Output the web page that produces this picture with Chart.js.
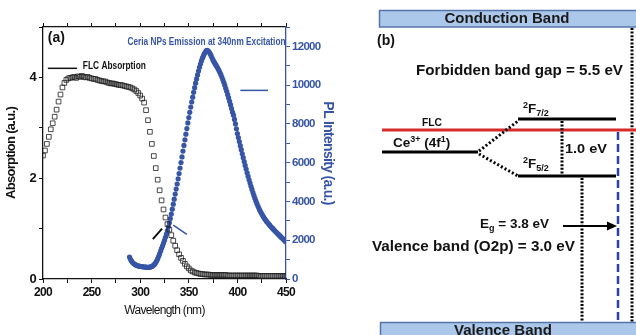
<!DOCTYPE html>
<html>
<head>
<meta charset="utf-8">
<script src="https://cdn.jsdelivr.net/npm/chart.js@4.4.1/dist/chart.umd.min.js"></script>
<style>
  html, body { margin: 0; padding: 0; background: #fff; }
  #wrap { position: relative; width: 636px; height: 335px; overflow: hidden; }
  #left { position: absolute; left: 0; top: 0; width: 340px; height: 335px; }
  #diagram { position: absolute; left: 0; top: 0; }
</style>
</head>
<body>
<div id="wrap">
  <div id="left"><canvas id="spectra" width="340" height="335"></canvas></div>
  <svg id="diagram" width="636" height="335" font-family="'Liberation Sans', Arial, sans-serif" font-weight="bold">
    <!-- conduction / valence band boxes -->
    <rect x="379.5" y="10.5" width="260" height="16.5" fill="#abc8ea" stroke="#5674aa" stroke-width="1.5"/>
    <text x="507" y="23" font-size="14" text-anchor="middle" textLength="125" lengthAdjust="spacingAndGlyphs" fill="#1a1a1a">Conduction Band</text>
    <rect x="380.5" y="322.5" width="260" height="20" fill="#abc8ea" stroke="#5674aa" stroke-width="1.5"/>
    <text x="503" y="335" font-size="14" text-anchor="middle" textLength="98" lengthAdjust="spacingAndGlyphs" fill="#1a1a1a">Valence Band</text>

    <text x="377" y="45" font-size="14" fill="#111">(b)</text>
    <text x="416" y="75" font-size="14" textLength="207" lengthAdjust="spacingAndGlyphs" fill="#111">Forbidden band gap = 5.5 eV</text>

    <!-- gap marker at right edge -->
    <line x1="632" y1="28" x2="632" y2="322" stroke="#000" stroke-width="3" stroke-dasharray="2 1.6"/>

    <!-- FLC level -->
    <line x1="382" y1="130" x2="636" y2="130" stroke="#d62b2b" stroke-width="3"/>
    <text x="422" y="126" font-size="10.5" textLength="20" lengthAdjust="spacingAndGlyphs" fill="#111">FLC</text>

    <!-- Ce3+ level and splitting -->
    <line x1="382" y1="152" x2="478" y2="152" stroke="#000" stroke-width="3"/>
    <text x="393" y="147" font-size="13.5" fill="#111">Ce<tspan font-size="9" dy="-5">3+</tspan><tspan dy="5"> (4f</tspan><tspan font-size="9" dy="-5">1</tspan><tspan dy="5">)</tspan></text>
    <line x1="479" y1="151" x2="518" y2="121" stroke="#000" stroke-width="3" stroke-dasharray="2 2.2"/>
    <line x1="479" y1="154" x2="518" y2="176" stroke="#000" stroke-width="3" stroke-dasharray="2 2.2"/>

    <line x1="518" y1="119" x2="616" y2="119" stroke="#000" stroke-width="3"/>
    <text x="523" y="113" font-size="13.5" fill="#111"><tspan font-size="9" dy="-5">2</tspan><tspan dy="5">F</tspan><tspan font-size="9" dy="3">7/2</tspan></text>
    <line x1="518" y1="176" x2="616" y2="176" stroke="#000" stroke-width="3"/>
    <text x="523" y="168" font-size="13.5" fill="#111"><tspan font-size="9" dy="-5">2</tspan><tspan dy="5">F</tspan><tspan font-size="9" dy="3">5/2</tspan></text>

    <line x1="562" y1="121" x2="562" y2="175" stroke="#000" stroke-width="3" stroke-dasharray="2 1.6"/>
    <text x="565" y="153" font-size="13.5" textLength="42" lengthAdjust="spacingAndGlyphs" fill="#111">1.0 eV</text>
    <line x1="582" y1="178" x2="582" y2="322" stroke="#000" stroke-width="3" stroke-dasharray="2 1.6"/>

    <!-- band edge (blue dashed) -->
    <line x1="618" y1="132" x2="618" y2="322" stroke="#2b40a0" stroke-width="2.5" stroke-dasharray="8 4"/>

    <!-- Eg arrow -->
    <line x1="563" y1="226" x2="610" y2="226" stroke="#000" stroke-width="2"/>
    <polygon points="617,226 607,221.5 607,230.5" fill="#000"/>
    <text x="480" y="228" font-size="13.5" fill="#111">E<tspan font-size="9" dy="3">g</tspan><tspan dy="-3"> = 3.8 eV</tspan></text>
    <text x="372" y="251" font-size="14" textLength="203" lengthAdjust="spacingAndGlyphs" fill="#111">Valence band (O2p) = 3.0 eV</text>
  </svg>
</div>
<script>
// FLC absorption, every 2 nm from 200 to 450 nm
const absStart = 200, absStep = 2;
const absorption = [
  2.45, 2.55, 2.68, 2.82, 2.97, 3.09, 3.22, 3.36, 3.52, 3.66,
  3.80, 3.89, 3.95, 3.98, 3.99, 4.00, 4.01, 3.99, 4.02, 4.01,
  4.03, 4.01, 4.00, 4.01, 3.99, 3.98, 3.97, 3.97, 3.95, 3.94,
  3.93, 3.92, 3.92, 3.90, 3.89, 3.88, 3.88, 3.87, 3.86, 3.85,
  3.85, 3.84, 3.83, 3.82, 3.81, 3.80, 3.78, 3.76, 3.73, 3.69,
  3.64, 3.58, 3.50, 3.35, 3.15, 2.92, 2.68, 2.44, 2.20, 1.97,
  1.76, 1.56, 1.38, 1.22, 1.09, 0.98, 0.87, 0.76, 0.66, 0.57,
  0.49, 0.42, 0.36, 0.30, 0.25, 0.21, 0.17, 0.15, 0.13, 0.12,
  0.11, 0.10, 0.10, 0.09, 0.09, 0.09,
  0.08, 0.08, 0.08, 0.08, 0.08, 0.08, 0.08, 0.08, 0.08,
  0.07, 0.07, 0.07, 0.07, 0.07, 0.07, 0.07, 0.07, 0.07, 0.07, 0.07, 0.07, 0.07, 0.07, 0.07, 0.07,
  0.06, 0.06, 0.06, 0.06, 0.06, 0.06, 0.06, 0.06, 0.06, 0.06, 0.06, 0.06, 0.06, 0.06, 0.06
];

// ceria NP emission (340 nm excitation), every 1 nm from 289 to 450 nm
const plStart = 289, plStep = 1;
const plIntensity = [
  1130, 1020, 930, 860, 810, 770, 740, 710, 690, 670, 660,
  650, 640, 640, 630, 620, 620, 610, 600, 600, 600,
  610, 630, 650, 680, 720, 780, 850, 940, 1050, 1170,
  1300, 1440, 1580, 1710, 1850, 2000, 2150, 2320, 2500, 2690,
  2900, 3120, 3350, 3600, 3860, 4120, 4380, 4640, 4900, 5170,
  5440, 5720, 6010, 6300, 6600, 6890, 7180, 7470, 7760, 8050,
  8330, 8600, 8870, 9130, 9380, 9630, 9870, 10100, 10320, 10530,
  10730, 10920, 11090, 11250, 11390, 11510, 11620, 11710, 11780, 11790,
  11760, 11700, 11620, 11520, 11400, 11290, 11200, 11110, 11030, 10950,
  10860, 10760, 10650, 10540, 10420, 10290, 10150, 10000, 9840, 9680,
  9510, 9340, 9160, 8980, 8790, 8600, 8450, 8230, 8000, 7750,
  7500, 7300, 7090, 6880, 6670, 6460, 6260, 6060, 5860, 5670,
  5480, 5300, 5120, 4950, 4780, 4620, 4460, 4310, 4170, 4030,
  3900, 3780, 3660, 3550, 3450, 3360, 3270, 3190, 3110, 3040,
  2970, 2910, 2850, 2790, 2730, 2670, 2620, 2570, 2510, 2460,
  2410, 2360, 2310, 2260, 2210, 2160, 2110, 2060, 2010, 1960, 1910
];

const xTickLabels = [200, 250, 300, 350, 400, 450];
const absTickLabels = [0, 2, 4];
const plTickLabels = [0, 2000, 4000, 6000, 8000, 10000, 12000];

const BLUE = '#3755a6';
const SANS = "'Liberation Sans', Arial, sans-serif";

function toPoints(start, step, values) {
  var pts = [];
  for (var i = 0; i < values.length; i++) {
    pts.push({x: start + i * step, y: values[i]});
  }
  return pts;
}

// draw a string squeezed to a given width (the figure uses very condensed type)
function squeezed(ctx, text, x, y, width, font, color, align) {
  ctx.save();
  ctx.letterSpacing = '0px';
  ctx.font = font;
  var w = ctx.measureText(text).width;
  var left = align == 'right' ? x - width : x;
  ctx.translate(left, y);
  ctx.scale(width / w, 1);
  ctx.fillStyle = color;
  ctx.textBaseline = 'middle';
  ctx.textAlign = 'left';
  ctx.fillText(text, 0, 0);
  ctx.restore();
}

function segment(ctx, x1, y1, x2, y2, color, width) {
  ctx.save();
  ctx.strokeStyle = color;
  ctx.lineWidth = width;
  ctx.beginPath();
  ctx.moveTo(x1, y1);
  ctx.lineTo(x2, y2);
  ctx.stroke();
  ctx.restore();
}

// the axis type in the figure is tight, so tighten the canvas text
const tightText = {
  id: 'tightText',
  beforeDraw: function (chart) { chart.ctx.letterSpacing = '-0.7px'; },
  afterDraw: function (chart) { chart.ctx.letterSpacing = '0px'; }
};

// labels and pointer marks inside panel (a), placed in data coordinates
const panelNotes = {
  id: 'panelNotes',
  afterDatasetsDraw: function (chart) {
    var ctx = chart.ctx;
    var x = chart.scales.x, ya = chart.scales.y, yp = chart.scales.y2;
    ctx.save();
    ctx.letterSpacing = '0px';
    ctx.font = "bold 14px " + SANS;
    ctx.fillStyle = '#111';
    ctx.textBaseline = 'middle';
    ctx.fillText('(a)', x.getPixelForValue(205), ya.getPixelForValue(4.77));
    ctx.restore();

    squeezed(ctx, 'Ceria NPs Emission at 340nm Excitation', x.getPixelForValue(449.5), ya.getPixelForValue(4.7),
      158, "bold 11px " + SANS, BLUE, 'right');
    squeezed(ctx, 'FLC Absorption', x.getPixelForValue(241), ya.getPixelForValue(4.23),
      63, "bold 11px " + SANS, '#111', 'left');

    // pointer lines to the axes
    segment(ctx, x.getPixelForValue(205), ya.getPixelForValue(4.18), x.getPixelForValue(235), ya.getPixelForValue(4.18), '#111', 1.5);
    segment(ctx, x.getPixelForValue(403), yp.getPixelForValue(9730), x.getPixelForValue(431.5), yp.getPixelForValue(9730), BLUE, 1.5);
    // little marks at the crossing
    segment(ctx, x.getPixelForValue(313), ya.getPixelForValue(0.79), x.getPixelForValue(322.5), ya.getPixelForValue(1.0), '#111', 2);
    segment(ctx, x.getPixelForValue(334), yp.getPixelForValue(2780), x.getPixelForValue(348), yp.getPixelForValue(2300), BLUE, 1.5);
  }
};

new Chart(document.getElementById('spectra'), {
  type: 'scatter',
  data: {
    datasets: [
      {
        label: 'FLC Absorption',
        data: toPoints(absStart, absStep, absorption),
        yAxisID: 'y',
        pointStyle: 'rect',
        pointRadius: 3.3,
        pointBorderWidth: 1,
        pointBorderColor: 'rgba(30,30,30,0.8)',
        pointBackgroundColor: 'rgba(255,255,255,0)',
        showLine: false
      },
      {
        label: 'Ceria NPs Emission',
        data: toPoints(plStart, plStep, plIntensity),
        yAxisID: 'y2',
        pointStyle: 'circle',
        pointRadius: 2.6,
        pointBorderWidth: 0,
        pointBackgroundColor: BLUE,
        showLine: false
      }
    ]
  },
  options: {
    responsive: false,
    animation: false,
    events: [],
    layout: {padding: 0},
    plugins: {legend: {display: false}, tooltip: {enabled: false}},
    scales: {
      x: {
        type: 'linear', position: 'bottom', min: 200, max: 450,
        afterFit: function (s) { s.height = 56; },
        border: {color: '#111', width: 1.3},
        grid: {drawOnChartArea: false, color: '#111', tickLength: 4},
        ticks: {
          stepSize: 25, color: '#111', padding: 2,
          autoSkip: false, maxRotation: 0, minRotation: 0,
          font: {family: SANS, size: 12, weight: 'bold'},
          callback: function (v) { return xTickLabels.indexOf(v) >= 0 ? v : ''; }
        },
        title: {display: true, text: 'Wavelength (nm)', color: '#111', padding: {bottom: 17},
          font: {family: SANS, size: 12}}
      },
      x2: {
        type: 'linear', position: 'top', min: 200, max: 450,
        afterFit: function (s) { s.height = 27; },
        border: {color: '#111', width: 1.3},
        grid: {drawOnChartArea: false, color: '#111', tickLength: 4},
        ticks: {stepSize: 25, display: false}
      },
      y: {
        type: 'linear', position: 'left', min: 0, max: 5,
        afterFit: function (s) { s.width = 43; },
        border: {color: '#111', width: 1.3},
        grid: {drawOnChartArea: false, color: '#111', tickLength: 4},
        ticks: {
          stepSize: 1, color: '#111', padding: 3,
          font: {family: SANS, size: 13, weight: 'bold'},
          callback: function (v) { return absTickLabels.indexOf(v) >= 0 ? v : ''; }
        },
        title: {display: true, text: 'Absorption (a.u.)', color: '#111', padding: {top: 4},
          font: {family: SANS, size: 13, weight: 'bold'}}
      },
      y2: {
        type: 'linear', position: 'right', min: 0, max: 13000,
        afterFit: function (s) { s.width = 54; },
        border: {color: BLUE, width: 1.3},
        grid: {drawOnChartArea: false, color: BLUE, tickLength: 4},
        ticks: {
          stepSize: 1000, color: BLUE, padding: 2,
          font: {family: SANS, size: 11.5, weight: 'bold'},
          callback: function (v) { return plTickLabels.indexOf(v) >= 0 ? v : ''; }
        },
        title: {display: true, text: 'PL Intensity (a.u.)', color: BLUE, padding: {top: 4},
          font: {family: SANS, size: 14, weight: 'bold'}}
      }
    }
  },
  plugins: [tightText, panelNotes]
});
</script>
</body>
</html>
